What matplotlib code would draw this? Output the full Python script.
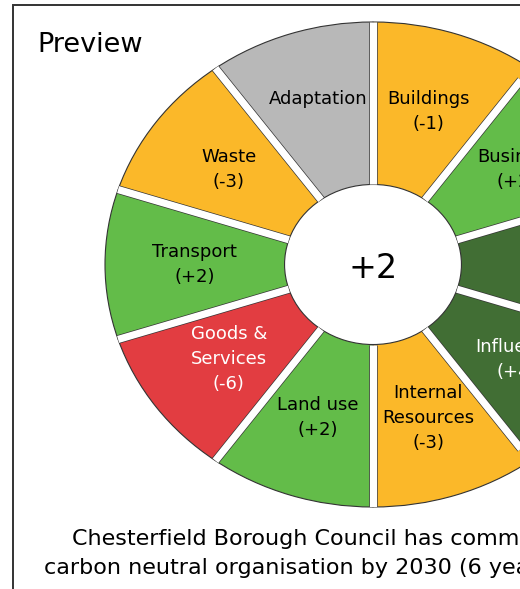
import numpy as np
import matplotlib
matplotlib.use("Agg")
import matplotlib.pyplot as plt
from matplotlib.patches import Rectangle

plt.rcParams['font.family'] = ['DejaVu Sans']

# ---- data ----
categories = ["Buildings", "Business", "Energy", "Influence", "Internal\nResources",
              "Land use", "Goods &\nServices", "Transport", "Waste", "Adaptation"]
scores = [-1, 2, 5, 4, -3, 2, -6, 2, -3, None]
colors = ["#FBB829", "#63BC49", "#416E34", "#416E34", "#FBB829",
          "#63BC49", "#E23D41", "#63BC49", "#FBB829", "#B8B8B8"]
text_colors = ["black", "black", "white", "white", "black",
               "black", "white", "black", "black", "black"]
segment_sizes = [1] * len(categories)
title = "Preview"
caption_line1 = "Chesterfield Borough Council has committed to be a"
caption_line2 = "carbon neutral organisation by 2030 (6 years from now)."

W, H = 520, 589
fig = plt.figure(figsize=(W / 100, H / 100), dpi=100)

# axes placed so the donut (an ellipse) is partly clipped at the right edge
cx, cy = 373, 264.5
rx, ry = 268, 242.5
ax = fig.add_axes([(cx - rx) / W, (H - (cy + ry)) / H, 2 * rx / W, 2 * ry / H])

inner = 0.33
width = 1 - inner
wedges, _ = ax.pie(segment_sizes, colors=colors, startangle=90, counterclock=False,
                   radius=1, wedgeprops=dict(width=width, edgecolor="#333333", linewidth=0.8))
ax.set_aspect("auto")
ax.set_xlim(-1, 1)
ax.set_ylim(-1, 1)
ax.axis("off")

# gaps between segments
n = len(categories)
gap_pt = 5.2
for k in range(n):
    th = np.deg2rad(90 - 360 * k / n)
    xs = [inner * np.cos(th), 1.0 * np.cos(th)]
    ys = [inner * np.sin(th), 1.0 * np.sin(th)]
    ax.plot(xs, ys, color="#333333", lw=gap_pt + 1.0, solid_capstyle="butt", zorder=3)
    ax.plot(xs, ys, color="white", lw=gap_pt, solid_capstyle="butt", zorder=4)

# labels
rl = (inner + 1) / 2
for k in range(n):
    mid = np.deg2rad(90 - 360 * (k + 0.5) / n)
    s = scores[k]
    val = "" if s is None else f"({s:+d})"
    lab = f"{categories[k]}\n{val}" if val else f"{categories[k]}\n "
    ax.text(rl * np.cos(mid), rl * np.sin(mid), lab, ha="center", va="center",
            multialignment="center", fontsize=13, color=text_colors[k],
            linespacing=1.5, zorder=5)

total = sum(s for s in scores if s is not None)
ax.text(0, -0.015, f"{total:+d}", ha="center", va="center", fontsize=24, zorder=5)

# frame
fig.patches.append(Rectangle((13 / W, -0.5), 2, 1.5 - 5 / H, transform=fig.transFigure,
                             fill=False, edgecolor="#333333", lw=1.4, zorder=-1))

fig.text(37 / W, 1 - 52 / H, title, fontsize=19.5, ha="left", va="baseline")
fig.text(72 / W, 1 - 545 / H, caption_line1, fontsize=16, ha="left", va="baseline")
fig.text(44 / W, 1 - 574 / H, caption_line2, fontsize=16, ha="left", va="baseline")

fig.savefig("out.png", dpi=100)
